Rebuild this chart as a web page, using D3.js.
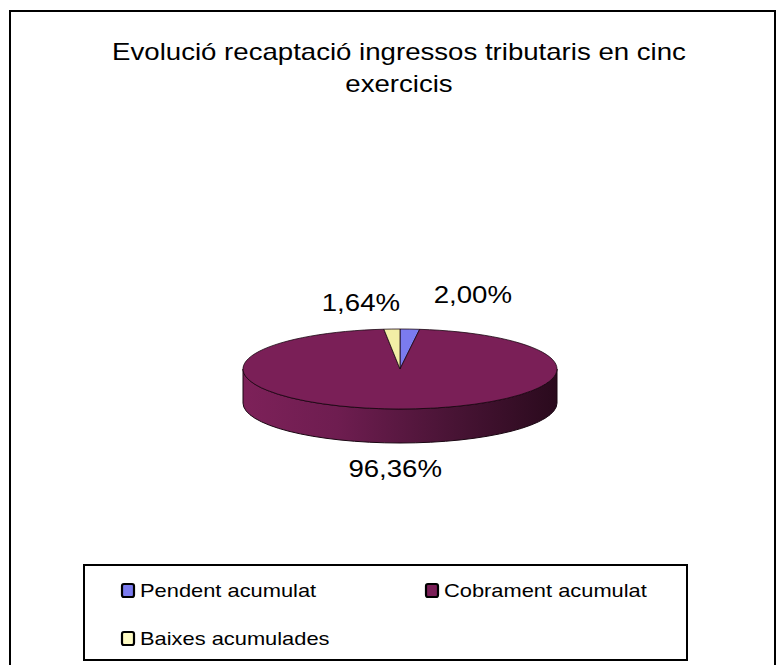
<!DOCTYPE html>
<html>
<head>
<meta charset="utf-8">
<script src="https://cdn.jsdelivr.net/npm/d3@7"></script>
<style>
  body { margin: 0; background: #fff; }
  svg { display: block; font-family: "Liberation Sans", Arial, sans-serif; }
</style>
</head>
<body>
<svg id="chart" width="778" height="665"></svg>
<script>
// data
const categories = ["Pendent acumulat", "Cobrament acumulat", "Baixes acumulades"];
const values = [2.00, 96.36, 1.64];
const pctLabels = ["2,00%", "96,36%", "1,64%"];
const colors = ["#7b7bef", "#7a1f57", "#f2eea6"];
const legendColors = ["#7b7bef", "#7a1f57", "#fffcc4"];
const titleLines = ["Evolució recaptació ingressos tributaris en cinc", "exercicis"];

const svg = d3.select("#chart");
const width = +svg.attr("width");
const height = +svg.attr("height");

// text in the picture is a bit wider than plain Arial
const xStretch = 1.15;
function stretch(sel) {
    sel.each(function () {
        const w = this.getComputedTextLength();
        d3.select(this).attr("textLength", w * xStretch).attr("lengthAdjust", "spacingAndGlyphs");
    });
}

// outer frame (bottom edge is off the picture)
svg.append("rect")
    .attr("x", 10).attr("y", 11)
    .attr("width", 765).attr("height", 680)
    .attr("fill", "none")
    .attr("stroke", "#000")
    .attr("stroke-width", 2);

// title
svg.append("g").selectAll("text")
    .data(titleLines)
    .enter().append("text")
    .attr("x", 399)
    .attr("y", (d, i) => 60 + i * 32)
    .attr("text-anchor", "middle")
    .style("font-size", "24px")
    .attr("fill", "#000")
    .text(d => d)
    .call(stretch);

// pie geometry
const cx = 400, cy = 369;
const rx = 157, ry = 40, depth = 34;
const proj = (a, k = 1) => [cx + rx * k * Math.sin(a), cy - ry * k * Math.cos(a)];

const pie = d3.pie().sort(null).value(d => d);
const arcs = pie(values);

const defs = svg.append("defs");
const grad = defs.append("linearGradient")
    .attr("id", "side")
    .attr("gradientUnits", "userSpaceOnUse")
    .attr("x1", cx - rx).attr("x2", cx + rx)
    .attr("y1", 0).attr("y2", 0);
[["0%", "#7d2159"], ["30%", "#6e1d50"], ["65%", "#4a1436"], ["100%", "#2a0a1d"]]
    .forEach(s => grad.append("stop").attr("offset", s[0]).attr("stop-color", s[1]));

// side walls, only the front half is visible
const sides = svg.append("g");
arcs.forEach((d, i) => {
    const a0 = Math.max(d.startAngle, Math.PI / 2);
    const a1 = Math.min(d.endAngle, 3 * Math.PI / 2);
    if (a1 <= a0) return;
    const p0 = proj(a0), p1 = proj(a1);
    const large = (a1 - a0) > Math.PI ? 1 : 0;
    const path = `M${p0[0]},${p0[1]} A${rx},${ry} 0 ${large} 1 ${p1[0]},${p1[1]}` +
        ` L${p1[0]},${p1[1] + depth} A${rx},${ry} 0 ${large} 0 ${p0[0]},${p0[1] + depth} Z`;
    sides.append("path")
        .attr("d", path)
        .attr("fill", i === 1 ? "url(#side)" : d3.color(colors[i]).darker(0.8))
        .attr("stroke", "#1a0612")
        .attr("stroke-width", 1);
});

// top faces
svg.append("g").selectAll("path")
    .data(arcs)
    .enter().append("path")
    .attr("d", d => {
        const p0 = proj(d.startAngle), p1 = proj(d.endAngle);
        const large = (d.endAngle - d.startAngle) > Math.PI ? 1 : 0;
        return `M${cx},${cy} L${p0[0]},${p0[1]} A${rx},${ry} 0 ${large} 1 ${p1[0]},${p1[1]} Z`;
    })
    .attr("fill", (d, i) => colors[i])
    .attr("stroke", "#1a0612")
    .attr("stroke-width", 0.8);

// percentage labels, nudged from the rim like the original
const labelNudge = [[63, -26], [-3, 68], [-31, -18]];
svg.append("g").selectAll("text")
    .data(arcs)
    .enter().append("text")
    .attr("x", (d, i) => proj((d.startAngle + d.endAngle) / 2)[0] + labelNudge[i][0])
    .attr("y", (d, i) => proj((d.startAngle + d.endAngle) / 2)[1] + labelNudge[i][1])
    .attr("text-anchor", "middle")
    .style("font-size", "24px")
    .attr("fill", "#000")
    .text((d, i) => pctLabels[i])
    .call(stretch);

// legend
const legend = svg.append("g");
legend.append("rect")
    .attr("x", 84).attr("y", 565)
    .attr("width", 603).attr("height", 95)
    .attr("fill", "#fff")
    .attr("stroke", "#000")
    .attr("stroke-width", 2);

const legendPos = [[121, 583], [425, 583], [121, 631]];
const items = legend.selectAll("g.item")
    .data(categories)
    .enter().append("g")
    .attr("class", "item")
    .attr("transform", (d, i) => `translate(${legendPos[i][0]},${legendPos[i][1]})`);

items.append("rect")
    .attr("x", 1).attr("y", 1)
    .attr("width", 12).attr("height", 13)
    .attr("rx", 2)
    .attr("fill", (d, i) => legendColors[i])
    .attr("stroke", "#000")
    .attr("stroke-width", 2.2);

items.append("text")
    .attr("x", 19)
    .attr("y", 14)
    .style("font-size", "19px")
    .attr("fill", "#000")
    .text(d => d)
    .call(stretch);
</script>
</body>
</html>
